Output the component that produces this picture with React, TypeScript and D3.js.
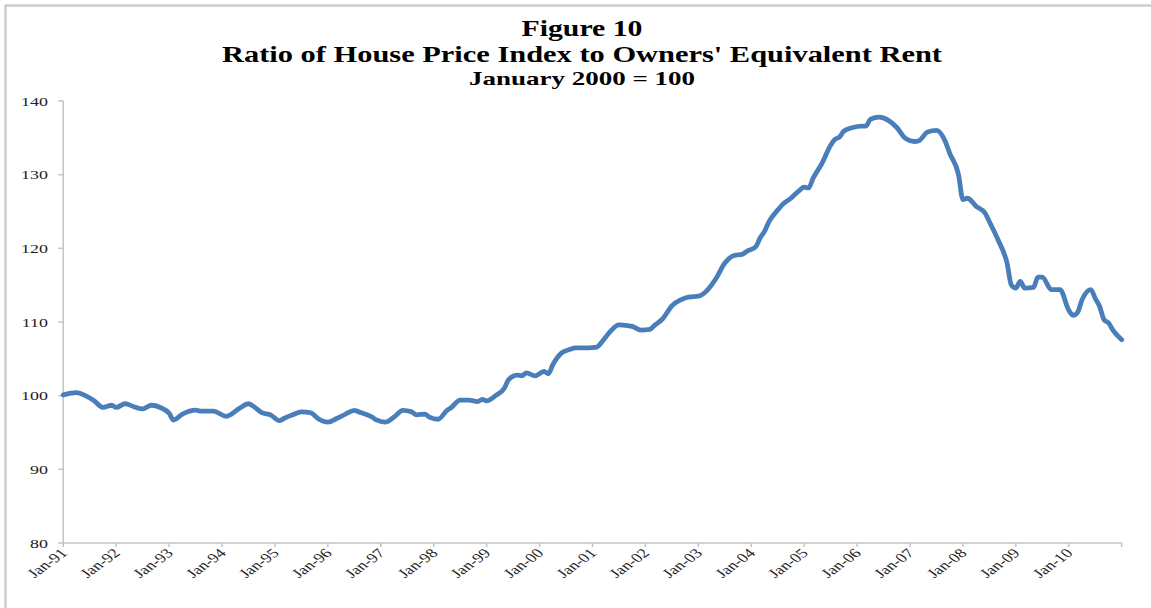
import React, { useEffect, useRef } from 'react';
import * as d3 from 'd3';

// months counted from Jan-91
const months = [
  0, 3, 5, 7, 9, 11, 12, 14, 16, 18, 20, 22, 24, 25, 27, 30, 31, 34, 37, 40,
  42, 43, 45, 47, 49, 50, 52, 54, 56, 58, 60, 62, 64, 66, 67, 70, 71, 73, 75, 77,
  79, 80, 82, 83, 85, 87, 88, 90, 92, 94, 95, 96, 98, 100, 101, 103, 104, 105, 107, 109,
  110, 111, 113, 115, 116, 119, 121, 122, 124, 126, 128, 129, 131, 133, 134, 136, 138, 140, 142, 144,
  146, 148, 150, 152, 154, 155, 157, 158, 159, 160, 162, 163, 165, 167, 168, 169, 170, 172, 174, 175,
  176, 177, 179, 181, 182, 183, 185, 187, 189, 191, 193, 194, 196, 198, 200, 201, 203, 204, 205, 207,
  209, 210, 212, 214, 215, 216, 217, 218, 220, 221, 222, 224, 226, 228, 229, 230, 231, 233, 234, 235,
  236, 237, 238, 240
];

const ratio = [
  100.1, 100.4, 100.0, 99.3, 98.4, 98.7, 98.4, 98.9, 98.5, 98.2, 98.7, 98.4, 97.6, 96.7, 97.5, 98.05, 97.9, 97.9, 97.2, 98.3,
  98.9, 98.6, 97.7, 97.4, 96.6, 96.9, 97.4, 97.8, 97.7, 96.8, 96.4, 96.9, 97.5, 98.0, 97.8, 97.1, 96.7, 96.4, 97.1, 98.0,
  97.8, 97.4, 97.5, 97.1, 96.8, 98.0, 98.4, 99.4, 99.4, 99.2, 99.5, 99.3, 100.0, 101.0, 102.2, 102.8, 102.7, 103.1, 102.7, 103.3,
  103.0, 104.2, 105.8, 106.3, 106.5, 106.5, 106.6, 107.2, 108.7, 109.6, 109.5, 109.4, 108.9, 109.0, 109.5, 110.5, 112.2, 113.0, 113.4, 113.5,
  114.3, 115.9, 118.0, 119.0, 119.2, 119.6, 120.2, 121.4, 122.3, 123.6, 125.2, 125.9, 126.8, 127.9, 128.3, 128.2, 129.5, 131.5, 134.0, 134.8,
  135.1, 135.9, 136.4, 136.6, 136.6, 137.5, 137.8, 137.4, 136.4, 134.9, 134.5, 134.6, 135.8, 136.0, 134.5, 132.9, 130.0, 126.6, 126.8, 125.7,
  124.8, 123.6, 121.1, 118.0, 115.0, 114.6, 115.5, 114.6, 114.7, 116.1, 116.1, 114.4, 114.4, 111.6, 110.9, 111.3, 113.0, 114.4, 113.2, 112.1,
  110.3, 109.9, 108.9, 107.6
];

const xLabels = [
  'Jan-91', 'Jan-92', 'Jan-93', 'Jan-94', 'Jan-95', 'Jan-96', 'Jan-97', 'Jan-98', 'Jan-99', 'Jan-00',
  'Jan-01', 'Jan-02', 'Jan-03', 'Jan-04', 'Jan-05', 'Jan-06', 'Jan-07', 'Jan-08', 'Jan-09', 'Jan-10'
];

const yTicks = [80, 90, 100, 110, 120, 130, 140];

const App: React.FC = () => {
  const svgRef = useRef<SVGSVGElement>(null);

  useEffect(() => {
    if (!svgRef.current) return;
    const svg = d3.select(svgRef.current);
    svg.selectAll('*').remove();

    const left = 63.3;
    const right = 1121.7;
    const top = 101;
    const bottom = 543;
    const serif = '"Liberation Serif", "Times New Roman", serif';
    const axisColor = '#c3c3c3';
    // the original picture is stretched sideways, so text is too
    const stretch = 1.38;

    // frame (only top/left edges visible)
    svg.append('rect')
      .attr('x', 5.5).attr('y', 5.5)
      .attr('width', 1200).attr('height', 700)
      .attr('fill', 'none')
      .attr('stroke', '#cdcdcd')
      .attr('stroke-width', 2.5);

    const x = d3.scaleLinear().domain([0, 240]).range([left, right]);
    const y = d3.scaleLinear().domain([80, 140]).range([bottom, top]);

    // titles
    const titles = [
      { text: 'Figure 10', y: 36, size: 23, w: 121 },
      { text: "Ratio of House Price Index to Owners' Equivalent Rent", y: 62, size: 23, w: 720 },
      { text: 'January 2000 = 100', y: 85, size: 19, w: 226 }
    ];
    svg.selectAll('.title')
      .data(titles)
      .enter()
      .append('text')
      .attr('x', 582)
      .attr('y', d => d.y)
      .attr('text-anchor', 'middle')
      .attr('font-family', serif)
      .attr('font-weight', 'bold')
      .attr('font-size', d => d.size)
      .attr('textLength', d => d.w)
      .attr('lengthAdjust', 'spacingAndGlyphs')
      .attr('fill', '#000')
      .text(d => d.text);

    // y axis
    svg.append('line')
      .attr('x1', left).attr('x2', left)
      .attr('y1', top).attr('y2', bottom)
      .attr('stroke', axisColor).attr('stroke-width', 1.5);
    svg.selectAll('.ytick')
      .data(yTicks)
      .enter()
      .append('line')
      .attr('x1', left - 5).attr('x2', left)
      .attr('y1', d => y(d)).attr('y2', d => y(d))
      .attr('stroke', axisColor).attr('stroke-width', 1.5);
    svg.selectAll('.ylab')
      .data(yTicks)
      .enter()
      .append('text')
      .attr('transform', d => `translate(48,${y(d) + 4.5}) scale(${stretch},1)`)
      .attr('text-anchor', 'end')
      .attr('font-family', serif)
      .attr('font-size', 13)
      .attr('fill', '#222')
      .text(d => d);

    // x axis
    svg.append('line')
      .attr('x1', left).attr('x2', right)
      .attr('y1', bottom).attr('y2', bottom)
      .attr('stroke', axisColor).attr('stroke-width', 1.5);
    const tickMonths = d3.range(0, 241, 12);
    svg.selectAll('.xtick')
      .data(tickMonths)
      .enter()
      .append('line')
      .attr('x1', d => x(d)).attr('x2', d => x(d))
      .attr('y1', bottom).attr('y2', bottom + 4)
      .attr('stroke', axisColor).attr('stroke-width', 1.5);
    svg.selectAll('.xlab')
      .data(xLabels)
      .enter()
      .append('text')
      .attr('transform', (d, i) => `translate(${x(i * 12) + 5},${bottom + 11}) scale(${stretch},1) rotate(-45)`)
      .attr('text-anchor', 'end')
      .attr('font-family', serif)
      .attr('font-size', 13)
      .attr('fill', '#222')
      .text(d => d);

    // series
    const points = months.map((m, i) => ({ m, v: ratio[i] }));
    const line = d3.line<{ m: number; v: number }>()
      .x(d => x(d.m))
      .y(d => y(d.v))
      .curve(d3.curveMonotoneX);
    svg.append('path')
      .datum(points)
      .attr('d', line)
      .attr('fill', 'none')
      .attr('stroke', '#4a7ebb')
      .attr('stroke-width', 4.8)
      .attr('stroke-linejoin', 'round')
      .attr('stroke-linecap', 'round');
  }, []);

  return (
    <svg
      ref={svgRef}
      width={1151}
      height={608}
      style={{ position: 'absolute', left: 0, top: 0, background: '#fff' }}
    />
  );
};

export default App;
